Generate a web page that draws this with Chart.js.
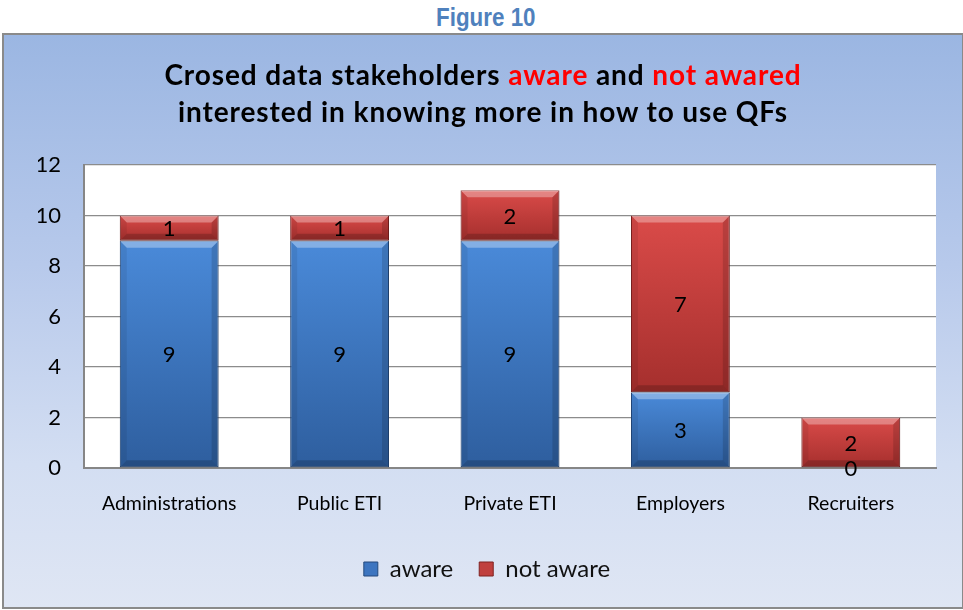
<!DOCTYPE html>
<html>
<head>
<meta charset="utf-8">
<script src="https://cdn.jsdelivr.net/npm/chart.js@4.4.1/dist/chart.umd.min.js"></script>
<style>
  html, body { margin: 0; padding: 0; background: #ffffff; width: 963px; height: 610px; overflow: hidden; }
  #fig { position: absolute; left: 4px; top: 1px; width: 963px; text-align: center; line-height: 32px; }
  #fig span { display: inline-block; transform: scaleX(0.86); transform-origin: center;
         font-family: "Liberation Sans", Arial, sans-serif; font-weight: bold;
         font-size: 26px; color: #4f81bd; }
  #box { position: absolute; left: 2px; top: 33px; width: 961px; height: 576px; box-sizing: border-box;
         border: 2px solid #8a8a8a; border-right-width: 1px;
         background: linear-gradient(to bottom, #9bb6e2 0%, #b7c9eb 40%, #d3def2 75%, #dfe6f4 100%); }
  #title { position: absolute; left: 0; top: 21px; width: 958px; text-align: center;
           font-family: Lato, "Open Sans", sans-serif; font-weight: bold; font-size: 28px; letter-spacing: 0.9px;
           line-height: 37px; color: #000; }
  #title .r { color: #ff0000; }
  #c { position: absolute; left: 0; top: 0; }
</style>
</head>
<body>
<div id="fig"><span>Figure 10</span></div>
<div id="box">
  <canvas id="c" width="958" height="574"></canvas>
  <div id="title">Crosed data stakeholders <span class="r">aware</span> and <span class="r">not awared</span><br>interested in knowing more in how to use QFs</div>
</div>
<script>
const categories = ["Administrations", "Public ETI", "Private ETI", "Employers", "Recruiters"];
const awareValues = [9, 9, 9, 3, 0];
const notAwareValues = [1, 1, 2, 7, 2];
const seriesNames = ["aware", "not aware"];
const yTicks = [0, 2, 4, 6, 8, 10, 12];

const FONT = "Lato, 'Open Sans', sans-serif";
const palette = {
  blue: { top: "#4a8ad9", bottom: "#2e5e9e", solid: "#3d75c0", border: "#24497c" },
  red:  { top: "#da4b49", bottom: "#a52f2d", solid: "#c0403e", border: "#7e2221" }
};

function barFill(pal) {
  return function (ctx) {
    const chart = ctx.chart;
    if (!chart.chartArea || ctx.dataIndex === undefined) return pal.solid;
    const y = chart.scales.y;
    const i = ctx.dataIndex, d = ctx.datasetIndex;
    let start = 0;
    for (let k = 0; k < d; k++) start += chart.data.datasets[k].data[i];
    const end = start + chart.data.datasets[d].data[i];
    const top = y.getPixelForValue(end), bot = y.getPixelForValue(start);
    if (bot - top < 1) return pal.solid;
    const g = chart.ctx.createLinearGradient(0, top, 0, bot);
    g.addColorStop(0, pal.top);
    g.addColorStop(1, pal.bottom);
    return g;
  };
}

const plotBg = {
  id: "plotBg",
  beforeDraw(chart) {
    const { ctx, chartArea: a } = chart;
    ctx.save();
    ctx.fillStyle = "#ffffff";
    ctx.fillRect(a.left, a.top, a.right - a.left, a.bottom - a.top);
    ctx.restore();
  }
};

const bevel = {
  id: "bevel",
  afterDatasetsDraw(chart) {
    const ctx = chart.ctx;
    ctx.save();
    chart.data.datasets.forEach((ds, di) => {
      const meta = chart.getDatasetMeta(di);
      meta.data.forEach((el) => {
        const p = el.getProps(["x", "y", "base", "width"], true);
        const left = p.x - p.width / 2, right = p.x + p.width / 2;
        const top = Math.min(p.y, p.base), bottom = Math.max(p.y, p.base);
        const h = bottom - top;
        if (h < 2) return;
        const b = Math.min(7, h / 3);
        const poly = (pts, fill) => {
          ctx.beginPath();
          ctx.moveTo(pts[0][0], pts[0][1]);
          for (let k = 1; k < pts.length; k++) ctx.lineTo(pts[k][0], pts[k][1]);
          ctx.closePath();
          ctx.fillStyle = fill;
          ctx.fill();
        };
        poly([[left, top], [right, top], [right - b, top + b], [left + b, top + b]], "rgba(255,255,255,0.32)");
        poly([[left, top], [left + b, top + b], [left + b, bottom - b], [left, bottom]], "rgba(0,0,0,0.07)");
        poly([[right, top], [right - b, top + b], [right - b, bottom - b], [right, bottom]], "rgba(0,0,0,0.14)");
        poly([[left, bottom], [left + b, bottom - b], [right - b, bottom - b], [right, bottom]], "rgba(0,0,0,0.18)");
      });
    });
    ctx.restore();
  }
};

const valueLabels = {
  id: "valueLabels",
  afterDatasetsDraw(chart) {
    const ctx = chart.ctx;
    ctx.save();
    ctx.font = "22px " + FONT;
    ctx.fillStyle = "#000000";
    ctx.textAlign = "center";
    ctx.textBaseline = "middle";
    chart.data.datasets.forEach((ds, di) => {
      const meta = chart.getDatasetMeta(di);
      meta.data.forEach((el, i) => {
        const p = el.getProps(["x", "y", "base"], true);
        ctx.fillText(String(ds.data[i]), p.x, (p.y + p.base) / 2 + 1);
      });
    });
    ctx.restore();
  }
};

new Chart(document.getElementById("c"), {
  type: "bar",
  data: {
    labels: categories,
    datasets: [
      { label: seriesNames[0], data: awareValues, backgroundColor: barFill(palette.blue),
        borderColor: palette.blue.border, borderWidth: 1, borderSkipped: false,
        barPercentage: 0.58, categoryPercentage: 1 },
      { label: seriesNames[1], data: notAwareValues, backgroundColor: barFill(palette.red),
        borderColor: palette.red.border, borderWidth: 1, borderSkipped: false,
        barPercentage: 0.58, categoryPercentage: 1 }
    ]
  },
  options: {
    responsive: false,
    animation: false,
    events: [],
    layout: { padding: { left: 34, right: 26, top: 130, bottom: 18 } },
    plugins: {
      title: { display: false },
      tooltip: { enabled: false },
      legend: {
        position: "bottom",
        labels: {
          color: "#111111",
          font: { family: FONT, size: 24 },
          boxWidth: 14, boxHeight: 14, padding: 26,
          generateLabels(chart) {
            const cols = [palette.blue, palette.red];
            return chart.data.datasets.map((ds, i) => ({
              text: ds.label, fillStyle: cols[i].solid, strokeStyle: cols[i].border,
              lineWidth: 1, hidden: false, datasetIndex: i, fontColor: "#111111"
            }));
          }
        }
      }
    },
    scales: {
      x: {
        stacked: true,
        grid: { display: false, drawTicks: false },
        border: { display: true, color: "#868686", width: 2 },
        ticks: { color: "#000000", font: { family: FONT, size: 19.5 }, padding: 24 },
        afterFit(scale) { scale.height = 63; }
      },
      y: {
        stacked: true,
        min: 0, max: 12,
        afterBuildTicks(scale) { scale.ticks = yTicks.map(v => ({ value: v })); },
        grid: { color: "#8c8c8c", lineWidth: 1.3, drawTicks: false },
        border: { display: true, color: "#868686", width: 2 },
        ticks: { color: "#000000", font: { family: FONT, size: 22 }, padding: 23 },
        afterFit(scale) { scale.width = 46; }
      }
    }
  },
  plugins: [plotBg, bevel, valueLabels]
});
</script>
</body>
</html>
